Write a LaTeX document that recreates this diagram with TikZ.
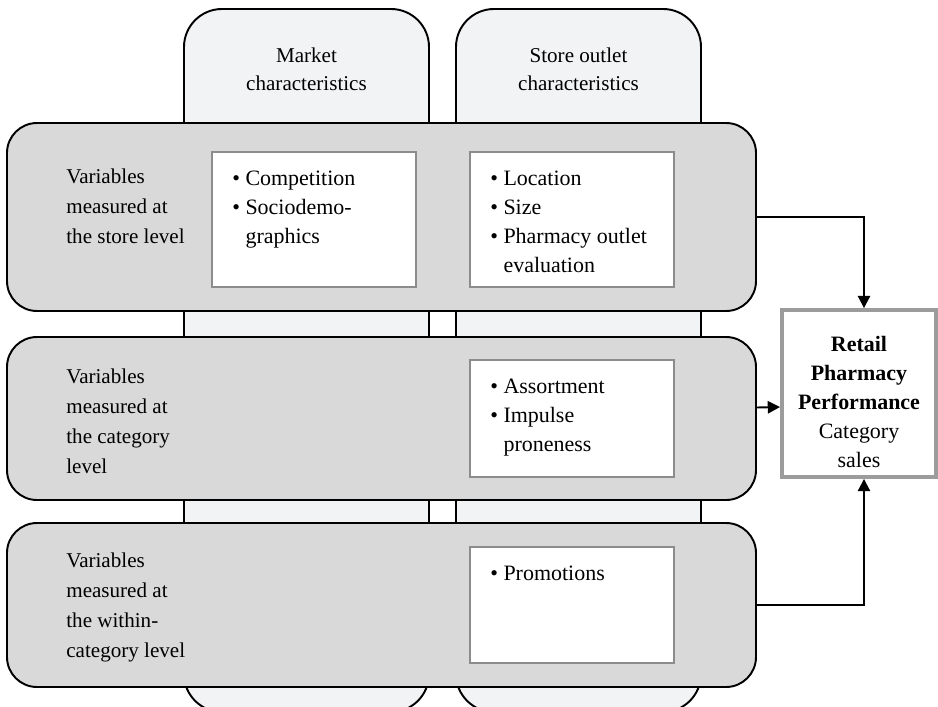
\documentclass[tikz,border=0pt]{standalone}
\usepackage{fontspec}
\setmainfont{Liberation Serif}
\usetikzlibrary{arrows.meta,fit}
\definecolor{tiergray}{HTML}{D9D9D9}
\definecolor{colgray}{HTML}{F2F3F5}
\definecolor{boxgray}{HTML}{8C8C8C}
\definecolor{perfgray}{HTML}{9C9C9C}
\begin{document}
\begin{tikzpicture}[x=0.02cm,y=-0.02cm,
  charcol/.style={draw,line width=1.1pt,fill=colgray,rounded corners=0.76cm,inner sep=0pt},
  tier/.style={draw,line width=1.1pt,fill=tiergray,rounded corners=0.6cm,inner sep=0pt},
  varbox/.style={draw=boxgray,line width=1.1pt,fill=white,inner sep=0pt},
  tiertext/.style={anchor=north west,inner sep=0pt,align=left,font=\fontsize{12}{17}\selectfont},
  itemtext/.style={anchor=north west,inner sep=0pt,align=left,font=\fontsize{12.5}{16.5}\selectfont},
  headtext/.style={anchor=north,inner sep=0pt,align=center,font=\fontsize{12}{16}\selectfont},
  perfbox/.style={draw=perfgray,line width=2.2pt,fill=white,inner sep=0pt},
  perftext/.style={align=center,inner sep=0pt,font=\fontsize{12.5}{16.5}\selectfont},
  flow/.style={line width=1.1pt,-{Triangle[length=7pt,width=7pt]}}]
\useasboundingbox (0,0) rectangle (938,707);

% the two columns, cut off at the bottom
\begin{scope}
\clip (0,0) rectangle (938,707);
\node[charcol,fit={(184,9) (429,712)}] (market) {};
\node[charcol,fit={(456,9) (701,712)}] (store) {};
\end{scope}
\node[headtext] (markethead) at (306.5,47.5) {Market\\characteristics};
\node[headtext] (storehead) at (578.5,47.5) {Store outlet\\characteristics};

% the three levels
\node[tier,fit={(7,123) (756,311)}] (storelvl) {};
\node[tier,fit={(7,337) (756,500)}] (catlvl) {};
\node[tier,fit={(7,523) (756,687)}] (withinlvl) {};

\node[tiertext] (storetxt) at (66,168.5) {Variables\\measured at\\the store level};
\node[tiertext] (cattxt) at (66,368.5) {Variables\\measured at\\the category\\level};
\node[tiertext] (withintxt) at (66,552.5) {Variables\\measured at\\the within-\\category level};

% boxes of variables
\node[varbox,fit={(212,152) (416,287)}] (compbox) {};
\node[varbox,fit={(470,152) (674,287)}] (locbox) {};
\node[varbox,fit={(470,360) (674,477)}] (assortbox) {};
\node[varbox,fit={(470,547) (674,663)}] (promobox) {};

\node[itemtext] (comptxt) at (232,170.5) {\textbullet\ Competition\\\textbullet\ Sociodemo-\\\hphantom{\textbullet\ }graphics};
\node[itemtext] (loctxt) at (490,170.5) {\textbullet\ Location\\\textbullet\ Size\\\textbullet\ Pharmacy outlet\\\hphantom{\textbullet\ }evaluation};
\node[itemtext] (assorttxt) at (490,378.5) {\textbullet\ Assortment\\\textbullet\ Impulse\\\hphantom{\textbullet\ }proneness};
\node[itemtext] (promotxt) at (490,565.5) {\textbullet\ Promotions};

% outcome
\node[perfbox,fit={(782,310) (936,477)}] (perf) {};
\node[perftext] (perftxt) at (859,402) {\textbf{Retail}\\\textbf{Pharmacy}\\\textbf{Performance}\\Category\\sales};

\draw[flow] (storelvl.east) -| ([xshift=0.1cm]perf.north);
\draw[flow] ([yshift=0.22cm]catlvl.east) -- ([yshift=-0.27cm]perf.west);
\draw[flow] (withinlvl.east) -| ([xshift=0.1cm]perf.south);

\end{tikzpicture}
\end{document}
